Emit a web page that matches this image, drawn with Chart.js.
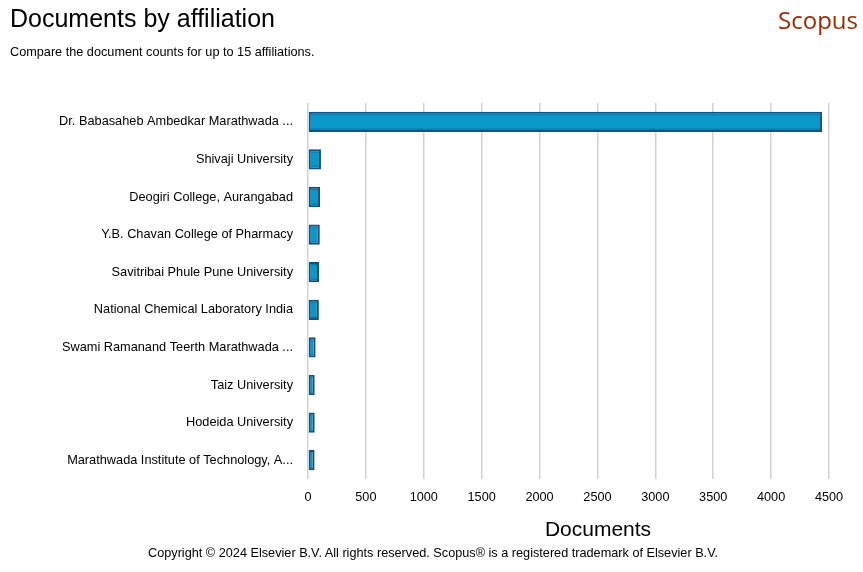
<!DOCTYPE html>
<html>
<head>
<meta charset="utf-8">
<script src="https://cdn.jsdelivr.net/npm/chart.js@4"></script>
<style>
html,body{margin:0;padding:0;background:#fff;width:863px;height:572px;overflow:hidden;font-family:"Liberation Sans",Arial,sans-serif;}
#wrap{position:absolute;left:0;top:0;width:863px;height:572px;}
.t{position:absolute;white-space:nowrap;color:#000;line-height:1;}
#title{left:10px;top:6px;font-size:25px;}
#sub{left:10px;top:46px;font-size:12.7px;}
#scopus{right:5px;top:8px;font-size:24px;color:#9e2a02;font-family:"Open Sans","Liberation Sans",sans-serif;}
#xtitle{left:598px;top:518px;font-size:21px;transform:translateX(-50%);}
#copy{left:0;width:866px;text-align:center;top:547px;font-size:12.7px;}
</style>
</head>
<body>
<div id="wrap"><canvas id="c" width="863" height="572"></canvas></div>
<div class="t" id="title">Documents by affiliation</div>
<div class="t" id="sub">Compare the document counts for up to 15 affiliations.</div>
<div class="t" id="scopus">Scopus</div>
<div class="t" id="xtitle">Documents</div>
<div class="t" id="copy">Copyright © 2024 Elsevier B.V. All rights reserved. Scopus® is a registered trademark of Elsevier B.V.</div>
<script>
const affiliations = [
  "Dr. Babasaheb Ambedkar Marathwada ...",
  "Shivaji University",
  "Deogiri College, Aurangabad",
  "Y.B. Chavan College of Pharmacy",
  "Savitribai Phule Pune University",
  "National Chemical Laboratory India",
  "Swami Ramanand Teerth Marathwada ...",
  "Taiz University",
  "Hodeida University",
  "Marathwada Institute of Technology, A..."
];
const documents = [4440, 112, 104, 102, 95, 94, 66, 58, 58, 57];
const xTicks = [0, 500, 1000, 1500, 2000, 2500, 3000, 3500, 4000, 4500];

function barFill(ctx) {
  const chart = ctx.chart;
  const ys = chart.scales && chart.scales.y;
  if (!ys || !chart.chartArea || ctx.dataIndex === undefined) return '#0a98cb';
  const c = ys.getPixelForValue(ctx.dataIndex);
  const g = chart.ctx.createLinearGradient(0, c - 10, 0, c + 10);
  g.addColorStop(0, '#085e90');
  g.addColorStop(0.22, '#0a98cb');
  g.addColorStop(0.78, '#0a98cb');
  g.addColorStop(1, '#085e90');
  return g;
}

new Chart(document.getElementById('c'), {
  type: 'bar',
  data: {
    labels: affiliations,
    datasets: [{
      data: documents,
      backgroundColor: barFill,
      borderColor: '#0a5585',
      borderWidth: 2,
      borderSkipped: false,
      categoryPercentage: 1,
      barPercentage: 0.54
    }]
  },
  options: {
    indexAxis: 'y',
    responsive: false,
    animation: false,
    devicePixelRatio: 1,
    layout: { padding: { left: 0, top: 103, right: 34, bottom: 28 } },
    plugins: { legend: { display: false }, tooltip: { enabled: false }, title: { display: false } },
    scales: {
      x: {
        min: 0, max: 4500,
        afterBuildTicks: s => { s.ticks = xTicks.map(v => ({ value: v })); },
        grid: { color: '#d2d2d2', lineWidth: 1.5, drawTicks: false },
        border: { display: false },
        ticks: { color: '#000', font: { family: 'Liberation Sans', size: 12.7 }, padding: 11, maxRotation: 0,
                 callback: v => String(v) },
        title: { display: false },
        afterFit: s => { s.height = 65; }
      },
      y: {
        grid: { display: false, drawTicks: false },
        border: { display: false },
        ticks: { color: '#000', font: { family: 'Liberation Sans', size: 12.75 }, padding: 15, autoSkip: false },
        afterFit: s => { s.width = 308; }
      }
    }
  }
});
</script>
</body>
</html>
